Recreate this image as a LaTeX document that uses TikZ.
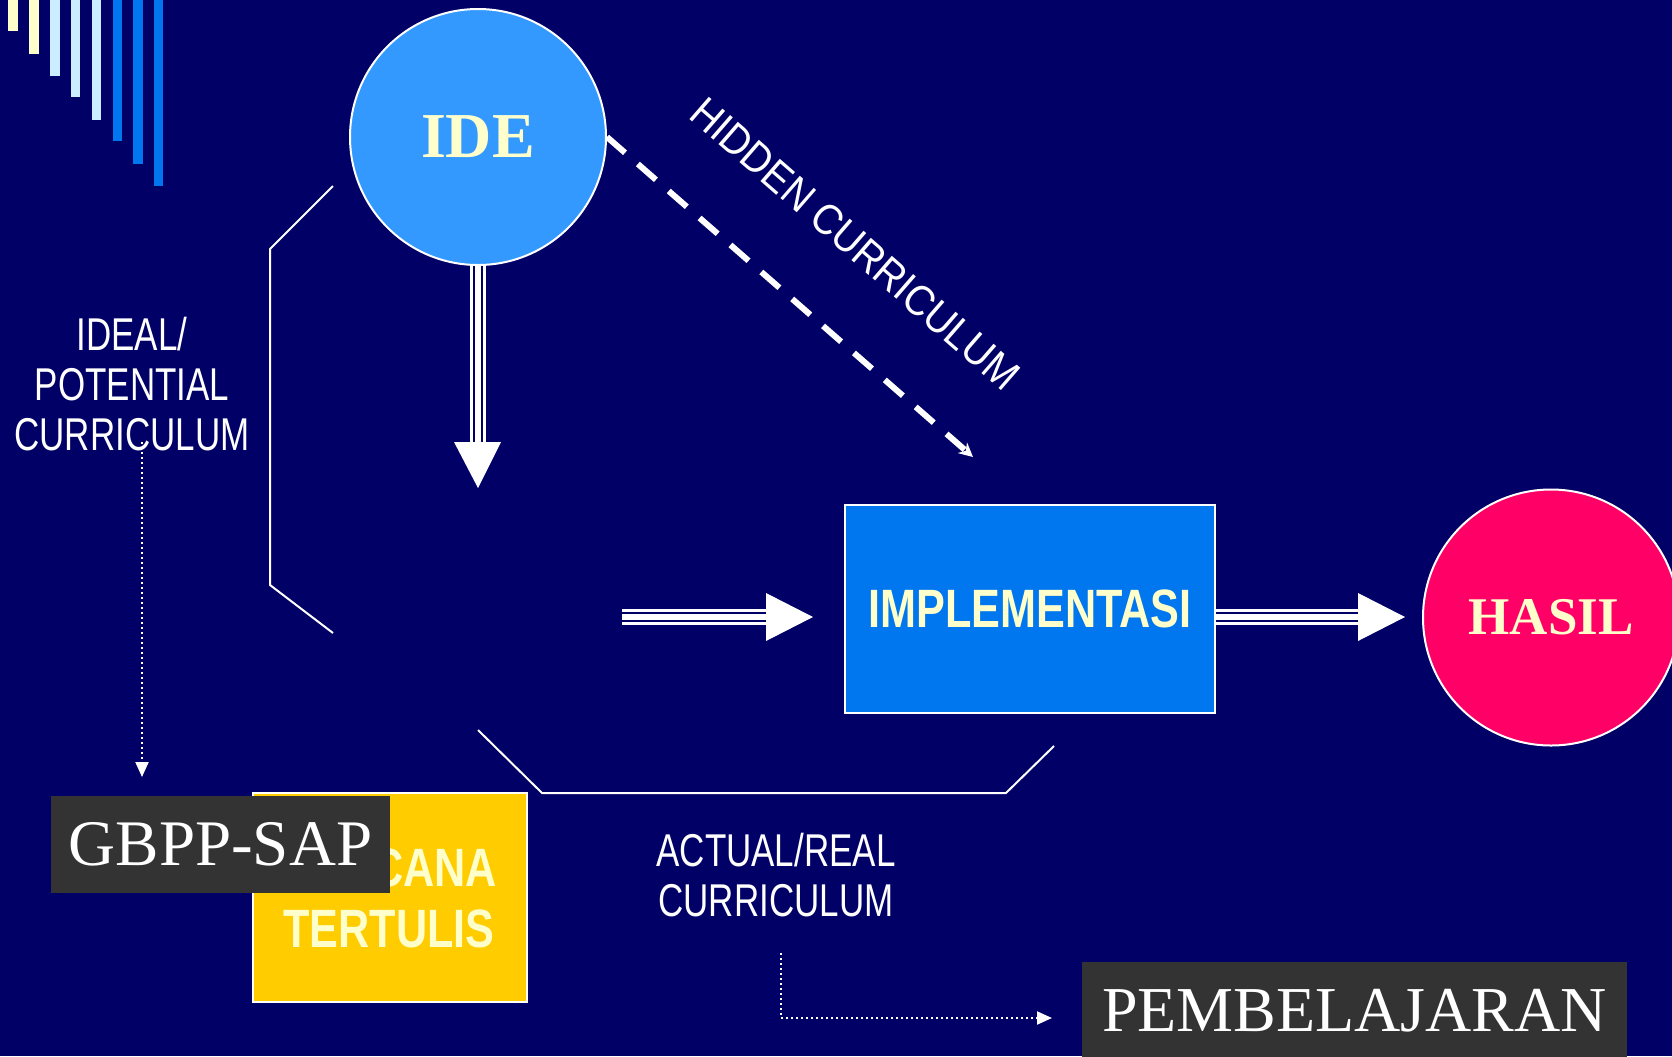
\documentclass[tikz,border=0pt]{standalone}
\usepackage{fontspec}
\setmainfont{Liberation Serif}
\newfontfamily\labelfont[FakeStretch=0.76]{Liberation Sans}
\newfontfamily\hiddenfont[FakeStretch=0.9]{Liberation Sans}
\newfontfamily\boxfont[FakeStretch=0.8]{Liberation Sans Bold}
\usetikzlibrary{arrows.meta}
\definecolor{bgnavy}{HTML}{000066}
\definecolor{barY}{HTML}{FFFFCC}
\definecolor{barL}{HTML}{CCECFF}
\definecolor{barB}{HTML}{0077EE}
\definecolor{ideblue}{HTML}{3399FF}
\definecolor{implblue}{HTML}{0077EE}
\definecolor{rencyellow}{HTML}{FFCC00}
\definecolor{hasilred}{HTML}{FF0066}
\definecolor{textyellow}{HTML}{FFFFCC}
\definecolor{boxgray}{HTML}{333333}
\begin{document}
\begin{tikzpicture}[x=0.5pt,y=-0.5pt,
  ring/.style={circle, draw=white, line width=1pt, minimum size=128pt, inner sep=0pt, text=textyellow},
  panel/.style={rectangle, draw=white, line width=1pt, inner sep=0pt},
  darkbox/.style={rectangle, fill=boxgray, inner sep=0pt, text=white},
  bracket/.style={draw=white, line width=1pt},
  shaft/.style={draw=white, line width=8pt},
  shaftgap/.style={draw=bgnavy, double=white, double distance=3pt, line width=1pt},
  head/.style={fill=white},
  dotarrow/.style={draw=white, line width=1pt, dash pattern=on 1pt off 1.5pt, -{Triangle[width=6.5pt,length=7.5pt]}},
  hiddenarrow/.style={draw=white, line width=3pt, dash pattern=on 12pt off 8.5pt, -{Stealth[length=7pt,width=7pt]}},
  curlabel/.style={text=white, font=\labelfont\fontsize{23pt}{25pt}\selectfont, align=center, inner sep=0pt},
]
\useasboundingbox (0,0) rectangle (1672,1056);
\clip (0,0) rectangle (1672,1056);
\fill[bgnavy] (0,0) rectangle (1672,1056);
% decorative bars
\fill[barY] (8,0) rectangle (18,31);
\fill[barY] (29,0) rectangle (39,54);
\fill[barL] (50,0) rectangle (60,76);
\fill[barL] (71,0) rectangle (80,97);
\fill[barL] (92,0) rectangle (101,120);
\fill[barB] (113,0) rectangle (122,141);
\fill[barB] (133,0) rectangle (143,164);
\fill[barB] (154,0) rectangle (163,186);
% brackets
\draw[bracket] (333,186) -- (270,249) -- (270,585) -- (333,633);
\draw[bracket] (478,730) -- (542,793) -- (1006,793) -- (1054,746);
% nodes
\node[ring, fill=ideblue, font=\bfseries\fontsize{32pt}{32pt}\selectfont] (ide) at (478,137) {IDE};
\node[ring, fill=hasilred, font=\bfseries\fontsize{26.5pt}{26.5pt}\selectfont] (hasil) at (1551,617.5) {HASIL};
\node[panel, fill=implblue, minimum width=185pt, minimum height=104pt, text=textyellow, font=\boxfont\fontsize{27pt}{27pt}\selectfont] (impl) at (1030,609) {IMPLEMENTASI};
\node[panel, fill=rencyellow, minimum width=137pt, minimum height=104.5pt] (rencana) at (390,897.5) {};
\node[anchor=base, text=textyellow, font=\boxfont\fontsize{27pt}{30.5pt}\selectfont, align=center, inner sep=0pt] (rencanatext) at (389,947) {RENCANA\\TERTULIS};
\node[darkbox, minimum width=169.5pt, minimum height=48.5pt, font=\fontsize{32.5pt}{32.5pt}\selectfont] (gbpp) at (220.5,844.5) {GBPP-SAP};
\node[darkbox, minimum width=272.5pt, minimum height=48.5pt, font=\fontsize{32pt}{32pt}\selectfont] (pemb) at (1354.5,1010.5) {PEMBELAJARAN};
% labels
\node[curlabel, anchor=base] (ideal) at (132,450) {IDEAL/\\POTENTIAL\\CURRICULUM};
\node[curlabel, anchor=base] (actual) at (776,916) {ACTUAL/REAL\\CURRICULUM};
\node[text=white, font=\hiddenfont\fontsize{21.5pt}{21.5pt}\selectfont, inner sep=0pt, anchor=base west, rotate=-41] (hidden) at (687,117) {HIDDEN CURRICULUM};
% coordinates
\coordinate (a1base) at (478,442);
\coordinate (a1tip) at (478,488);
\coordinate (a2start) at (622,617);
\coordinate (a2base) at (766,617);
\coordinate (a2tip) at (813,617);
\coordinate (a3base) at (1358,617);
\coordinate (a3tip) at (1405,617);
\coordinate (hidtip) at (973,457);
\coordinate (d1s) at (142,442);
\coordinate (d1e) at (142,777);
\coordinate (d2s) at (781,953);
\coordinate (d2e) at (1052,1018);
% triple arrows
\draw[shaft] (ide.south) -- (a1base);
\draw[shaftgap] (ide.south) -- (a1base);
\fill[head] (454,442) -- (501,442) -- (a1tip) -- cycle;
\draw[shaft] (a2start) -- (a2base);
\draw[shaftgap] (a2start) -- (a2base);
\fill[head] (766,593) -- (766,641) -- (a2tip) -- cycle;
\draw[shaft] (impl.east |- a3base) -- (a3base);
\draw[shaftgap] (impl.east |- a3base) -- (a3base);
\fill[head] (1358,593) -- (1358,641) -- (a3tip) -- cycle;
% hidden curriculum
\draw[hiddenarrow] (ide.east) -- (hidtip);
% dotted arrows
\draw[dotarrow] (d1s) -- (d1e);
\draw[dotarrow] (d2s) |- (d2e);
\end{tikzpicture}
\end{document}
